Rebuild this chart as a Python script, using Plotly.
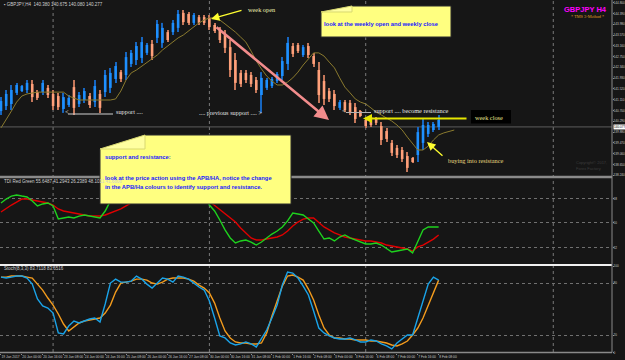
import plotly.graph_objects as go

# ---------------- data ----------------
x_labels = ["19 Jan 2017", "20 Jan 00:00", "20 Jan 16:00", "23 Jan 08:00", "24 Jan 00:00",
            "24 Jan 16:00", "25 Jan 08:00", "26 Jan 00:00", "26 Jan 16:00", "27 Jan 08:00",
            "30 Jan 00:00", "30 Jan 16:00", "31 Jan 08:00", "1 Feb 00:00", "1 Feb 16:00",
            "2 Feb 08:00", "3 Feb 00:00", "3 Feb 16:00", "6 Feb 08:00", "7 Feb 00:00",
            "7 Feb 16:00", "8 Feb 08:00"]
label_bars = [0, 4, 8, 12, 16, 20, 24, 28, 32, 36, 40, 44, 48, 52, 56, 60, 64, 68, 72, 76, 80, 84]
separator_bars = [10, 40, 70, 106]

opens = [140.68, 140.87, 140.95, 141.37, 141.44, 141.48, 141.71, 141.40, 141.40, 141.56,
         141.33, 141.25, 140.76, 140.91, 141.59, 140.95, 141.10, 141.25, 141.02, 141.33,
         141.40, 141.56, 141.90, 142.16, 142.05, 142.47, 142.62, 142.70, 142.89, 143.23,
         143.46, 143.27, 143.68, 143.68, 143.84, 144.41, 144.37, 144.03, 144.25, 144.25,
         144.22, 143.95, 143.76, 143.57, 143.11, 142.62, 142.13, 142.13, 142.05, 141.86,
         141.29, 141.56, 141.63, 141.82, 142.01, 142.47, 143.15, 143.19, 142.81, 143.15,
         142.77, 142.24, 141.82, 141.44, 141.33, 140.80, 141.02, 140.99, 140.83, 140.68,
         140.34, 140.45, 140.38, 140.11, 139.92, 139.47, 139.28, 139.20, 138.97, 138.90,
         139.01, 139.47, 139.81, 139.96, 140.07]
highs = [141.21, 141.48, 141.67, 141.75, 141.67, 141.86, 141.86, 141.48, 141.86, 141.67,
         141.48, 141.37, 141.37, 141.29, 141.86, 141.40, 141.56, 141.37, 141.86, 141.48,
         142.24, 142.32, 142.54, 142.24, 142.92, 143.00, 143.30, 143.49, 143.27, 143.38,
         144.14, 144.03, 143.76, 144.14, 144.52, 144.52, 144.44, 144.41, 144.33, 144.33,
         144.33, 144.03, 143.87, 143.76, 143.38, 142.89, 142.24, 142.24, 142.16, 141.97,
         142.16, 141.94, 141.97, 142.16, 142.73, 143.49, 143.27, 143.27, 143.19, 143.27,
         142.89, 142.54, 142.05, 141.56, 141.48, 141.10, 141.10, 141.10, 140.99, 140.72,
         140.42, 140.53, 140.45, 140.26, 140.04, 139.58, 139.39, 139.31, 139.12, 138.93,
         140.07, 140.42, 140.26, 140.26, 140.53]
lows = [140.53, 140.72, 140.72, 141.29, 141.40, 141.37, 141.02, 141.10, 141.29, 141.18,
        140.72, 140.72, 140.61, 140.83, 140.53, 140.83, 140.99, 140.80, 140.83, 140.61,
        141.21, 141.37, 141.75, 141.78, 141.86, 142.35, 142.43, 142.51, 142.81, 142.62,
        143.27, 143.08, 143.30, 143.57, 143.68, 143.95, 143.95, 143.95, 143.95, 143.95,
        143.76, 143.65, 143.27, 142.89, 141.97, 141.48, 141.59, 141.75, 141.59, 141.37,
        140.61, 141.48, 141.56, 141.75, 141.86, 142.24, 142.73, 142.89, 142.73, 142.70,
        142.35, 140.99, 140.91, 141.02, 140.72, 140.72, 140.64, 140.53, 140.23, 140.45,
        140.04, 140.07, 140.15, 139.39, 139.50, 138.97, 138.90, 138.74, 138.36, 138.71,
        138.74, 139.20, 139.69, 139.88, 139.96]
closes = [141.06, 141.33, 141.48, 141.67, 141.63, 141.75, 141.21, 141.18, 141.75, 141.29,
          140.87, 140.83, 141.21, 141.18, 140.80, 141.29, 141.44, 140.91, 141.63, 140.80,
          142.05, 142.13, 142.39, 141.90, 142.73, 142.89, 143.15, 143.30, 143.19, 142.77,
          143.99, 143.84, 143.38, 144.03, 144.37, 144.06, 144.03, 144.33, 144.03, 144.03,
          143.87, 143.72, 143.38, 143.08, 142.24, 141.75, 141.71, 141.86, 141.71, 141.48,
          141.94, 141.86, 141.90, 142.09, 142.58, 143.27, 142.85, 142.96, 143.11, 142.81,
          142.47, 141.29, 141.14, 141.14, 140.87, 141.02, 140.72, 140.64, 140.38, 140.49,
          140.11, 140.15, 140.23, 139.58, 139.62, 139.09, 139.01, 138.86, 138.52, 138.74,
          139.88, 140.15, 140.15, 140.19, 140.34]

# shifted moving average (extends 3 bars beyond the last bar)
ma_line = [140.04, 140.34, 140.68, 141.02, 141.25, 141.33, 141.37, 141.40, 141.40, 141.40,
           141.40, 141.40, 141.40, 141.25, 141.18, 141.10, 141.10, 141.10, 141.10, 141.10,
           141.10, 141.10, 141.14, 141.44, 141.86, 142.13, 142.24, 142.39, 142.54, 142.66,
           142.81, 143.00, 143.15, 143.30, 143.46, 143.57, 143.72, 143.87, 144.03, 144.14,
           144.22, 144.22, 144.14, 143.99, 143.84, 143.68, 143.49, 143.30, 142.96, 142.58,
           142.28, 142.01, 141.82, 141.67, 141.67, 141.78, 141.94, 142.16, 142.43, 142.66,
           142.89, 142.89, 142.77, 142.54, 142.32, 141.94, 141.59, 141.37, 141.14, 141.02,
           140.95, 140.80, 140.64, 140.53, 140.42, 140.30, 140.15, 139.96, 139.69, 139.43,
           139.20, 139.20, 139.35, 139.58, 139.77, 139.85, 139.92, 139.96]

bid_price = 140.077
price_ticks = [144.800, 144.390, 143.980, 143.570, 143.160, 142.750, 142.340, 141.930, 141.520,
               141.110, 140.700, 140.290, 139.880, 139.470, 139.060, 138.650, 138.240]

tdi_green = [64.7, 67.6, 69.8, 70.6, 69.8, 69.1, 66.2, 62.5, 64.0, 64.7,
             62.5, 52.9, 53.7, 54.4, 53.7, 55.1, 55.9, 55.1, 54.4, 53.7,
             58.8, 66.2, 72.0, 69.0, 74.0, 75.0, 77.0, 78.0, 76.0, 72.0,
             79.0, 78.0, 74.0, 77.0, 80.0, 76.0, 74.0, 74.0, 72.0, 70.0,
             63.2, 58.8, 52.2, 44.9, 39.0, 35.3, 36.8, 37.5, 36.0, 33.8,
             36.0, 39.0, 41.9, 44.1, 47.1, 51.5, 57.3, 56.6, 55.9, 52.9,
             50.0, 44.1, 38.2, 39.0, 36.8, 39.7, 41.2, 39.0, 37.5, 36.0,
             34.6, 34.6, 35.3, 33.8, 30.9, 28.7, 29.4, 30.2, 30.9, 28.0,
             36.0, 44.9, 47.1, 47.1, 47.1]
tdi_red = [58.1, 61.0, 63.2, 65.4, 67.6, 67.6, 66.9, 66.2, 65.4, 64.7,
           63.2, 60.3, 58.8, 58.1, 57.3, 56.6, 55.9, 55.1, 55.1, 55.1,
           55.9, 57.3, 58.8, 60.3, 62.5, 64.7, 66.0, 68.0, 70.0, 71.0,
           72.0, 73.0, 74.0, 74.0, 75.0, 76.0, 76.0, 75.0, 72.0, 69.0,
           66.0, 63.2, 60.3, 56.6, 53.7, 50.7, 46.3, 42.7, 39.0, 37.5,
           37.5, 38.2, 39.0, 39.7, 41.2, 44.1, 47.8, 50.7, 52.9, 53.7,
           53.7, 50.7, 47.1, 44.9, 42.7, 41.2, 39.7, 39.0, 38.2, 37.5,
           36.8, 36.8, 36.0, 35.3, 33.8, 33.1, 32.4, 31.6, 30.9, 29.4,
           32.4, 33.8, 36.0, 38.2, 41.2]
tdi_levels = [32, 50, 68]

stoch_k = [87.2, 86.1, 87.2, 88.4, 88.4, 86.1, 79.1, 61.9, 53.8, 51.5,
           45.7, 22.7, 21.5, 30.7, 36.5, 34.2, 36.5, 38.8, 39.9, 35.3,
           56.1, 80.3, 84.9, 81.4, 81.4, 82.6, 88.4, 84.9, 79.1, 74.5,
           80.3, 86.1, 84.9, 81.4, 88.4, 87.2, 84.9, 80.3, 75.7, 72.2,
           59.5, 39.9, 19.2, 16.9, 11.1, 8.8, 10.0, 12.3, 10.0, 6.5,
           15.7, 26.1, 39.9, 54.9, 78.0, 93.0, 91.8, 86.1, 76.8, 66.5,
           48.0, 28.4, 22.7, 19.2, 16.9, 15.7, 15.7, 16.9, 14.6, 12.3,
           12.3, 14.6, 13.4, 10.0, 7.7, 4.2, 11.1, 15.7, 20.3, 20.3,
           39.9, 60.7, 79.1, 87.2, 83.7]
stoch_d = [87.2, 87.2, 88.4, 88.4, 88.4, 87.2, 86.1, 79.1, 72.2, 63.0,
           54.9, 44.6, 33.0, 25.0, 29.6, 34.2, 36.5, 37.6, 38.8, 39.9,
           45.7, 54.9, 69.9, 80.3, 81.4, 82.6, 84.9, 84.9, 83.7, 80.3,
           79.1, 81.4, 84.9, 86.1, 86.1, 86.1, 84.9, 82.6, 78.0, 74.5,
           68.8, 57.2, 39.9, 25.0, 16.9, 12.3, 11.1, 11.1, 10.0, 10.0,
           11.1, 22.7, 42.3, 60.7, 76.8, 88.4, 89.5, 87.2, 83.7, 73.4,
           60.7, 43.4, 28.4, 20.3, 16.9, 16.9, 15.7, 15.7, 14.6, 14.6,
           14.6, 13.4, 13.4, 12.3, 11.1, 8.8, 7.7, 10.0, 13.4, 20.3,
           28.4, 39.9, 54.9, 69.9, 83.7]
stoch_levels = [0, 20, 80, 100]

# ---------------- figure ----------------
W, H = 625, 360
def px(x):
    return x / W
def py(y):
    return 1 - y / H

bars = list(range(len(opens)))
ma_bars = list(range(len(ma_line)))

BG = "#161616"
SANS = "Liberation Sans, Arial, sans-serif"
SERIF = "Liberation Serif, Times New Roman, serif"
TICK = dict(size=3.1, color="#c8c8c8", family=SANS)

UP_BODY, UP_WICK = "#1E90FF", "#1766C0"
DN_BODY, DN_WICK = "#FFA07A", "#C4775A"
up = [c >= o for o, c in zip(opens, closes)]

fig = go.Figure()
fig.add_trace(go.Bar(
    x=bars, base=lows, y=[h - l for h, l in zip(highs, lows)], width=0.2,
    marker=dict(color=[UP_WICK if u else DN_WICK for u in up], line=dict(width=0)),
    xaxis="x", yaxis="y", showlegend=False, hoverinfo="skip"))
fig.add_trace(go.Bar(
    x=bars, base=[min(o, c) for o, c in zip(opens, closes)],
    y=[abs(c - o) for o, c in zip(opens, closes)], width=0.5,
    marker=dict(color=[UP_BODY if u else DN_BODY for u in up], line=dict(width=0)),
    xaxis="x", yaxis="y", showlegend=False, hoverinfo="skip"))
fig.add_trace(go.Scatter(x=ma_bars, y=ma_line, mode="lines",
                         line=dict(color="#8A7A2E", width=1), xaxis="x", yaxis="y",
                         showlegend=False, hoverinfo="skip"))
fig.add_trace(go.Scatter(x=bars, y=tdi_red, mode="lines", line=dict(color="#E00000", width=1.4),
                         xaxis="x", yaxis="y2", showlegend=False, hoverinfo="skip"))
fig.add_trace(go.Scatter(x=bars, y=tdi_green, mode="lines", line=dict(color="#1ED21E", width=1.4),
                         xaxis="x", yaxis="y2", showlegend=False, hoverinfo="skip"))
fig.add_trace(go.Scatter(x=bars, y=stoch_d, mode="lines", line=dict(color="#F29B1D", width=1.4),
                         xaxis="x", yaxis="y3", showlegend=False, hoverinfo="skip"))
fig.add_trace(go.Scatter(x=bars, y=stoch_k, mode="lines", line=dict(color="#1AA3E8", width=1.4),
                         xaxis="x", yaxis="y3", showlegend=False, hoverinfo="skip"))

shapes = []
for b in separator_bars:
    shapes.append(dict(type="line", xref="x", yref="paper", x0=b, x1=b, y0=py(352), y1=1,
                       line=dict(color="#7a7a7a", width=1, dash="dot"), layer="below"))
shapes.append(dict(type="line", xref="paper", yref="y", x0=0, x1=px(612), y0=bid_price, y1=bid_price,
                   line=dict(color="#5c5c5c", width=1), layer="below"))
shapes.append(dict(type="line", xref="paper", yref="paper", x0=0, x1=px(612), y0=py(177), y1=py(177),
                   line=dict(color="#8a8a8a", width=2.5)))
shapes.append(dict(type="line", xref="paper", yref="paper", x0=0, x1=px(612), y0=py(265), y1=py(265),
                   line=dict(color="#f0f0f0", width=2)))
shapes.append(dict(type="line", xref="paper", yref="paper", x0=0, x1=px(612), y0=py(352.5), y1=py(352.5),
                   line=dict(color="#8a8a8a", width=1.5)))
shapes.append(dict(type="line", xref="paper", yref="paper", x0=px(612), x1=px(612), y0=py(352.5), y1=1,
                   line=dict(color="#8a8a8a", width=1)))
shapes.append(dict(type="line", xref="paper", yref="paper", x0=px(68), x1=px(113), y0=py(114), y1=py(114),
                   line=dict(color="#d0d0d0", width=1)))
shapes.append(dict(type="line", xref="paper", yref="paper", x0=px(346), x1=px(371), y0=py(112.5), y1=py(112.5),
                   line=dict(color="#b0b0b0", width=1)))
shapes.append(dict(type="rect", xref="paper", yref="paper", x0=px(471), x1=px(511), y0=py(123.5), y1=py(110),
                   fillcolor="#000000", line=dict(width=0)))

def note(pts, flap):
    p = "M " + " L ".join(f"{px(a):.5f},{py(b):.5f}" for a, b in pts) + " Z"
    f = "M " + " L ".join(f"{px(a):.5f},{py(b):.5f}" for a, b in flap) + " Z"
    shapes.append(dict(type="path", xref="paper", yref="paper", path=p, fillcolor="#FFFF80",
                       line=dict(color="#2a2a2a", width=1), layer="above"))
    shapes.append(dict(type="path", xref="paper", yref="paper", path=f, fillcolor="#FFFFA0",
                       line=dict(color="#D8D870", width=1), layer="above"))

note([(321, 12), (352, 6), (451, 6), (451, 37), (321, 37)], [(321, 12), (352, 6), (352, 12)])
note([(100, 149), (145, 135), (291, 135), (291, 204), (100, 204)], [(100, 149), (145, 135), (145, 149)])

ann = []
def txt(t, x, y, size=6, color="#e0e0e0", family=SERIF, xanchor="left", **kw):
    ann.append(dict(text=t, x=px(x), y=py(y), xref="paper", yref="paper", showarrow=False,
                    xanchor=xanchor, yanchor="middle", font=dict(size=size, color=color, family=family), **kw))

def arrow(hx, hy, tx, ty, color, width, head=2, size=1.0):
    ann.append(dict(text="", x=px(hx), y=py(hy), xref="paper", yref="paper", showarrow=True,
                    ax=tx - hx, ay=ty - hy, axref="pixel", ayref="pixel", arrowcolor=color,
                    arrowwidth=width, arrowhead=head, arrowsize=size, standoff=0, startstandoff=0))

txt("▪ GBPJPY,H4  140.380 140.675 140.080 140.277", 2, 5, size=4.5, color="#d0d0d0", family=SANS)
txt("TDI Red Green 55.6487 41.2943 26.2389 48.1011 41.6808", 2, 181.5, size=4.5, color="#d0d0d0", family=SANS)
txt("Stoch(8,3,3) 83.7118 83.6516", 2, 268.5, size=4.5, color="#d0d0d0", family=SANS)
txt("<b>GBPJPY H4</b>", 609, 9.5, size=7.5, color="#FF00FF", family=SANS, xanchor="right")
txt("* TMS 3-Method *", 606, 16.5, size=4.3, color="#E0A020", family=SERIF, xanchor="right")

txt("week open", 246, 9.5, size=6.3, color="#F2F2B0")
txt("<", 63, 111.5, size=6.3, color="#d8d8d8")
txt("support ....", 114, 111.5, size=6.3, color="#e0e0e0")
txt(".... previous support .... >", 197, 112.5, size=6.3, color="#e0e0e0")
txt("<", 340, 110.5, size=6.3, color="#d8d8d8")
txt("support .... become resistance", 372, 110, size=6.3, color="#e8e8e8")
txt("week close", 473, 117.5, size=6.3, color="#E8E890")
txt("buying into resistance", 446, 160, size=6.3, color="#E8D880")

txt("<b>look at the weekly open and weekly close</b>", 321.5, 24, size=5.8, color="#1A1AFF", family=SANS)
txt("<b>support and resistance:</b>", 102.5, 157, size=5.8, color="#1A1AFF", family=SANS)
txt("<b>look at the price action using the APB/HA, notice the change</b>", 102.5, 178, size=5.8,
    color="#1A1AFF", family=SANS)
txt("<b>in the APB/Ha colours to identify support and resistance.</b>", 102.5, 187, size=5.8,
    color="#1A1AFF", family=SANS)

txt("Copyright© 2017,", 574, 163, size=4, color="#3c3c3c", family=SANS)
txt("Forex Factory", 574, 168, size=4, color="#3c3c3c", family=SANS)

ann.append(dict(text=f"{bid_price:.3f}", x=px(612.5), y=bid_price, xref="paper", yref="y", showarrow=False,
                xanchor="left", yanchor="middle", bgcolor="#ffffff", borderpad=0,
                font=dict(size=3.1, color="#000000", family=SANS)))

arrow(211, 19, 243, 10, "#FFFF30", 1.2, head=2, size=1.4)
arrow(329, 120, 215, 26, "#F28C8C", 2.6, head=2, size=1.1)
arrow(363, 118.5, 468, 118.5, "#E6E600", 1.8, head=2, size=1.0)
arrow(427, 142, 444, 157, "#FFFF30", 1.3, head=2, size=1.3)

common_y = dict(side="right", anchor="x", tickfont=TICK, ticks="outside", ticklen=1,
                ticklabelstandoff=-1,
                tickcolor="#8a8a8a", zeroline=False, automargin=False, fixedrange=True)
fig.update_layout(
    template="none",
    width=W, height=H, margin=dict(l=0, r=0, t=0, b=0, pad=0), autosize=False,
    paper_bgcolor=BG, plot_bgcolor=BG, showlegend=False, barmode="overlay",
    shapes=shapes, annotations=ann,
    xaxis=dict(domain=[0, px(612)], range=[-0.19, 117.27], anchor="y3",
               tickvals=label_bars, ticktext=x_labels, tickfont=dict(size=3.3, color="#c8c8c8", family=SANS),
               tickangle=0, ticks="outside", ticklen=1.5, tickcolor="#8a8a8a",
               ticklabelposition="outside right", automargin=False,
               showgrid=False, zeroline=False, showline=False, fixedrange=True),
    yaxis=dict(domain=[py(176), 1], range=[138.212, 144.90],
               tickvals=price_ticks, ticktext=[f"{v:.3f}" for v in price_ticks],
               showgrid=False, **common_y),
    yaxis2=dict(domain=[py(263), py(179)], range=[20.6, 82.33], tickvals=tdi_levels,
                showgrid=True, gridcolor="#707070", griddash="dot", gridwidth=1, **common_y),
    yaxis3=dict(domain=[py(352.6), py(266)], range=[0, 100], tickvals=stoch_levels,
                showgrid=True, gridcolor="#707070", griddash="dot", gridwidth=1, **common_y),
)

fig.write_html("out.html")
